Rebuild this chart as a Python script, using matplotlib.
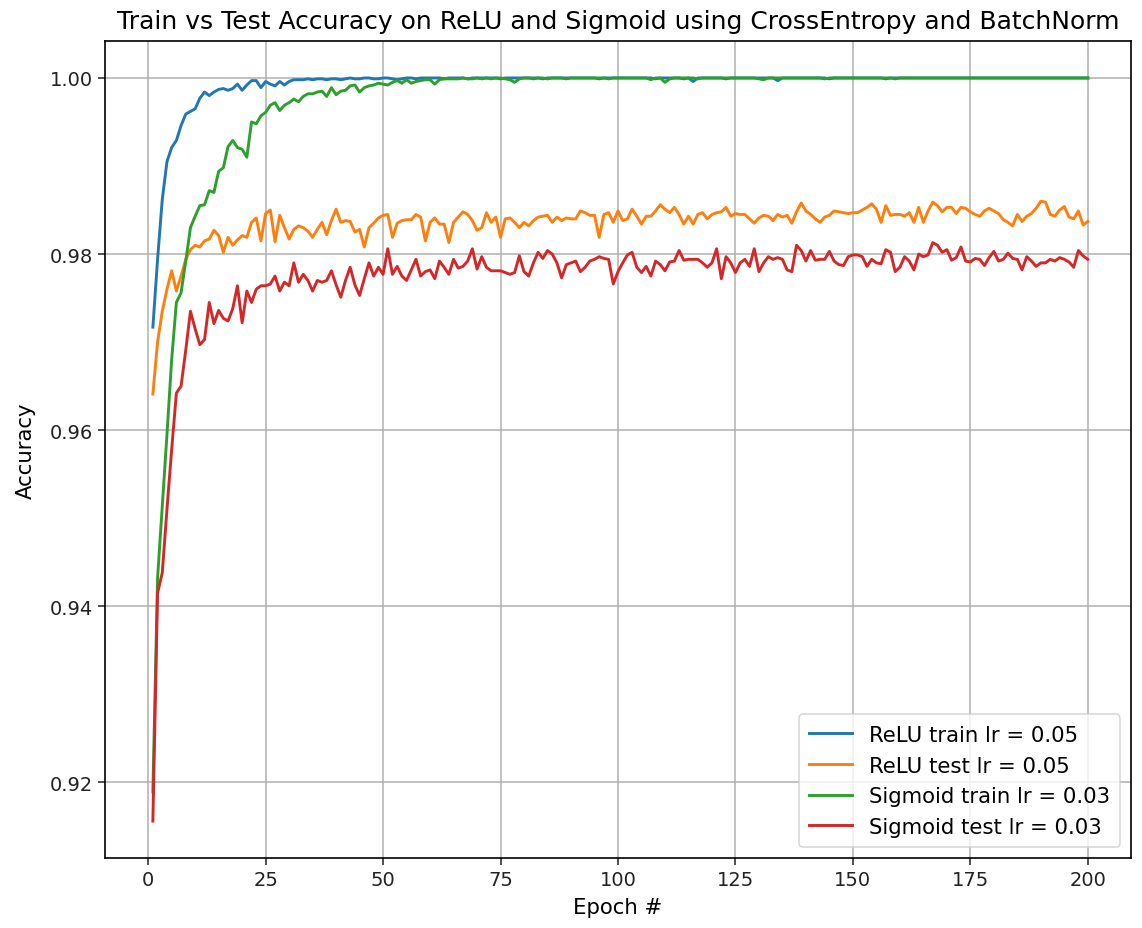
import matplotlib
matplotlib.use("Agg")
import matplotlib.pyplot as plt

# epochs 1..200
epochs = list(range(1, 201))

relu_train = [
    0.9717, 0.9794, 0.9862, 0.9905, 0.9921, 0.9929, 0.9946, 0.9959, 0.9962, 0.9965,
    0.9977, 0.9984, 0.9980, 0.9984, 0.9987, 0.9988, 0.9986, 0.9988, 0.9993, 0.9986,
    0.9992, 0.9997, 0.9997, 0.9989, 0.9996, 0.9993, 0.9991, 0.9996, 0.9992, 0.9996,
    0.9998, 0.9998, 0.9998, 0.9999, 0.9998, 0.9999, 0.9999, 0.9998, 0.9999, 0.9999,
    0.9998, 0.9999, 1.0000, 0.9999, 0.9999, 1.0000, 1.0000, 0.9999, 0.9999, 1.0000,
    1.0000, 0.9999, 0.9998, 0.9999, 1.0000, 1.0000, 0.9999, 1.0000, 1.0000, 1.0000,
    1.0000, 1.0000, 0.9999, 1.0000, 1.0000, 1.0000, 1.0000, 0.9999, 1.0000, 1.0000,
    1.0000, 1.0000, 1.0000, 1.0000, 0.9999, 1.0000, 1.0000, 1.0000, 1.0000, 1.0000,
    1.0000, 1.0000, 1.0000, 0.9999, 1.0000, 1.0000, 1.0000, 1.0000, 1.0000, 1.0000,
    1.0000, 1.0000, 1.0000, 1.0000, 1.0000, 0.9999, 1.0000, 1.0000, 1.0000, 1.0000,
    1.0000, 1.0000, 1.0000, 1.0000, 1.0000, 1.0000, 1.0000, 0.9999, 1.0000, 1.0000,
    1.0000, 1.0000, 1.0000, 0.9999, 1.0000, 0.9996, 1.0000, 1.0000, 1.0000, 1.0000,
    1.0000, 1.0000, 0.9999, 1.0000, 1.0000, 1.0000, 1.0000, 1.0000, 1.0000, 1.0000,
    1.0000, 1.0000, 1.0000, 0.9997, 1.0000, 1.0000, 1.0000, 1.0000, 1.0000, 1.0000,
    1.0000, 1.0000, 1.0000, 1.0000, 0.9999, 1.0000, 1.0000, 1.0000, 1.0000, 1.0000,
    1.0000, 1.0000, 1.0000, 1.0000, 1.0000, 1.0000, 0.9999, 1.0000, 1.0000, 1.0000,
    1.0000, 1.0000, 1.0000, 1.0000, 1.0000, 1.0000, 1.0000, 1.0000, 1.0000, 1.0000,
    1.0000, 1.0000, 1.0000, 1.0000, 1.0000, 1.0000, 1.0000, 1.0000, 1.0000, 1.0000,
    1.0000, 1.0000, 1.0000, 1.0000, 1.0000, 1.0000, 1.0000, 1.0000, 1.0000, 1.0000,
    1.0000, 1.0000, 1.0000, 1.0000, 1.0000, 1.0000, 1.0000, 1.0000, 1.0000, 1.0000,
]

relu_test = [
    0.9641, 0.9700, 0.9735, 0.9760, 0.9781, 0.9758, 0.9775, 0.9794, 0.9805, 0.9810,
    0.9808, 0.9815, 0.9817, 0.9827, 0.9821, 0.9802, 0.9819, 0.9810, 0.9816, 0.9821,
    0.9819, 0.9836, 0.9841, 0.9815, 0.9846, 0.9850, 0.9814, 0.9844, 0.9830, 0.9817,
    0.9828, 0.9832, 0.9830, 0.9826, 0.9819, 0.9828, 0.9836, 0.9822, 0.9838, 0.9851,
    0.9836, 0.9838, 0.9837, 0.9825, 0.9828, 0.9808, 0.9830, 0.9835, 0.9841, 0.9844,
    0.9845, 0.9819, 0.9835, 0.9838, 0.9839, 0.9839, 0.9845, 0.9842, 0.9815, 0.9836,
    0.9841, 0.9834, 0.9834, 0.9813, 0.9836, 0.9842, 0.9848, 0.9845, 0.9838, 0.9827,
    0.9830, 0.9847, 0.9836, 0.9842, 0.9819, 0.9840, 0.9841, 0.9836, 0.9830, 0.9836,
    0.9832, 0.9838, 0.9842, 0.9843, 0.9844, 0.9836, 0.9842, 0.9838, 0.9841, 0.9840,
    0.9840, 0.9849, 0.9847, 0.9844, 0.9844, 0.9819, 0.9845, 0.9847, 0.9836, 0.9849,
    0.9838, 0.9840, 0.9851, 0.9843, 0.9834, 0.9843, 0.9843, 0.9849, 0.9856, 0.9851,
    0.9847, 0.9853, 0.9845, 0.9834, 0.9843, 0.9834, 0.9845, 0.9847, 0.9840, 0.9845,
    0.9847, 0.9848, 0.9853, 0.9843, 0.9846, 0.9845, 0.9845, 0.9840, 0.9835, 0.9841,
    0.9844, 0.9843, 0.9838, 0.9845, 0.9842, 0.9844, 0.9835, 0.9848, 0.9858, 0.9849,
    0.9845, 0.9840, 0.9836, 0.9842, 0.9844, 0.9849, 0.9848, 0.9847, 0.9846, 0.9847,
    0.9847, 0.9850, 0.9853, 0.9857, 0.9851, 0.9836, 0.9855, 0.9844, 0.9845, 0.9845,
    0.9843, 0.9847, 0.9836, 0.9853, 0.9836, 0.9849, 0.9859, 0.9855, 0.9848, 0.9853,
    0.9853, 0.9846, 0.9853, 0.9852, 0.9848, 0.9845, 0.9843, 0.9849, 0.9852, 0.9849,
    0.9846, 0.9839, 0.9836, 0.9832, 0.9845, 0.9837, 0.9843, 0.9846, 0.9852, 0.9860,
    0.9859, 0.9845, 0.9843, 0.9850, 0.9854, 0.9842, 0.9840, 0.9849, 0.9833, 0.9837,
]

sigmoid_train = [
    0.9189, 0.9432, 0.9513, 0.9595, 0.9680, 0.9745, 0.9756, 0.9792, 0.9830, 0.9843,
    0.9855, 0.9856, 0.9872, 0.9870, 0.9894, 0.9898, 0.9922, 0.9929, 0.9921, 0.9919,
    0.9910, 0.9950, 0.9948, 0.9957, 0.9961, 0.9969, 0.9972, 0.9963, 0.9969, 0.9972,
    0.9976, 0.9973, 0.9979, 0.9982, 0.9982, 0.9984, 0.9985, 0.9979, 0.9989, 0.9981,
    0.9985, 0.9986, 0.9991, 0.9992, 0.9984, 0.9989, 0.9991, 0.9992, 0.9994, 0.9993,
    0.9992, 0.9995, 0.9997, 0.9994, 0.9998, 0.9994, 0.9996, 0.9997, 0.9998, 0.9998,
    0.9993, 0.9998, 0.9999, 0.9999, 0.9999, 0.9999, 1.0000, 0.9999, 0.9999, 1.0000,
    0.9999, 1.0000, 0.9999, 1.0000, 1.0000, 0.9999, 0.9998, 0.9995, 0.9999, 1.0000,
    1.0000, 0.9999, 1.0000, 1.0000, 0.9999, 1.0000, 1.0000, 1.0000, 0.9999, 1.0000,
    1.0000, 1.0000, 1.0000, 1.0000, 1.0000, 1.0000, 1.0000, 0.9999, 1.0000, 1.0000,
    1.0000, 1.0000, 1.0000, 1.0000, 1.0000, 1.0000, 0.9998, 1.0000, 1.0000, 0.9995,
    0.9999, 1.0000, 1.0000, 1.0000, 1.0000, 1.0000, 0.9999, 1.0000, 1.0000, 1.0000,
    1.0000, 1.0000, 1.0000, 1.0000, 1.0000, 1.0000, 1.0000, 1.0000, 1.0000, 0.9999,
    0.9998, 1.0000, 1.0000, 1.0000, 1.0000, 1.0000, 1.0000, 1.0000, 1.0000, 1.0000,
    1.0000, 1.0000, 1.0000, 0.9999, 1.0000, 1.0000, 1.0000, 1.0000, 1.0000, 1.0000,
    1.0000, 1.0000, 1.0000, 1.0000, 1.0000, 1.0000, 1.0000, 1.0000, 0.9999, 1.0000,
    1.0000, 1.0000, 1.0000, 1.0000, 1.0000, 1.0000, 1.0000, 1.0000, 1.0000, 1.0000,
    1.0000, 1.0000, 1.0000, 1.0000, 1.0000, 1.0000, 1.0000, 1.0000, 1.0000, 1.0000,
    1.0000, 1.0000, 1.0000, 1.0000, 1.0000, 1.0000, 1.0000, 1.0000, 1.0000, 1.0000,
    1.0000, 1.0000, 1.0000, 1.0000, 1.0000, 1.0000, 1.0000, 1.0000, 1.0000, 1.0000,
]

sigmoid_test = [
    0.9156, 0.9415, 0.9438, 0.9510, 0.9578, 0.9642, 0.9650, 0.9691, 0.9735, 0.9715,
    0.9697, 0.9703, 0.9745, 0.9721, 0.9736, 0.9727, 0.9724, 0.9738, 0.9764, 0.9722,
    0.9758, 0.9745, 0.9760, 0.9764, 0.9764, 0.9766, 0.9775, 0.9758, 0.9768, 0.9764,
    0.9790, 0.9768, 0.9777, 0.9770, 0.9758, 0.9770, 0.9768, 0.9770, 0.9781, 0.9765,
    0.9751, 0.9770, 0.9785, 0.9765, 0.9753, 0.9772, 0.9790, 0.9775, 0.9785, 0.9777,
    0.9806, 0.9777, 0.9786, 0.9775, 0.9770, 0.9782, 0.9794, 0.9775, 0.9780, 0.9782,
    0.9772, 0.9792, 0.9785, 0.9777, 0.9794, 0.9784, 0.9786, 0.9792, 0.9806, 0.9783,
    0.9797, 0.9785, 0.9781, 0.9781, 0.9781, 0.9779, 0.9777, 0.9779, 0.9798, 0.9780,
    0.9775, 0.9790, 0.9802, 0.9795, 0.9804, 0.9800, 0.9790, 0.9773, 0.9788, 0.9790,
    0.9792, 0.9780, 0.9785, 0.9792, 0.9794, 0.9797, 0.9795, 0.9794, 0.9766, 0.9780,
    0.9790, 0.9799, 0.9802, 0.9785, 0.9779, 0.9786, 0.9775, 0.9792, 0.9788, 0.9781,
    0.9791, 0.9792, 0.9804, 0.9793, 0.9794, 0.9794, 0.9794, 0.9790, 0.9785, 0.9790,
    0.9806, 0.9772, 0.9797, 0.9790, 0.9779, 0.9790, 0.9794, 0.9786, 0.9806, 0.9780,
    0.9790, 0.9797, 0.9794, 0.9796, 0.9794, 0.9782, 0.9780, 0.9810, 0.9804, 0.9792,
    0.9804, 0.9793, 0.9794, 0.9794, 0.9803, 0.9792, 0.9788, 0.9787, 0.9797, 0.9799,
    0.9799, 0.9797, 0.9786, 0.9794, 0.9790, 0.9789, 0.9805, 0.9802, 0.9780, 0.9785,
    0.9797, 0.9792, 0.9782, 0.9800, 0.9797, 0.9799, 0.9813, 0.9810, 0.9802, 0.9805,
    0.9793, 0.9796, 0.9808, 0.9792, 0.9791, 0.9795, 0.9794, 0.9787, 0.9796, 0.9803,
    0.9792, 0.9794, 0.9801, 0.9795, 0.9794, 0.9782, 0.9797, 0.9792, 0.9786, 0.9790,
    0.9790, 0.9794, 0.9792, 0.9796, 0.9794, 0.9791, 0.9785, 0.9804, 0.9798, 0.9794,
]

labels = ["ReLU train lr = 0.05", "ReLU test lr = 0.05",
          "Sigmoid train lr = 0.03", "Sigmoid test lr = 0.03"]
colors = ["#1f77b4", "#ff7f0e", "#2ca02c", "#d62728"]

plt.rcParams['font.family'] = ['DejaVu Sans']

fig = plt.figure(figsize=(11.42, 9.29), dpi=100)
ax = fig.add_axes([0.0919, 0.0753, 0.8985, 0.8795])

for series, label, color in zip([relu_train, relu_test, sigmoid_train, sigmoid_test], labels, colors):
    ax.plot(epochs, series, color=color, lw=2.1, label=label)

ax.set_xticks([0, 25, 50, 75, 100, 125, 150, 175, 200])
ax.set_yticks([0.92, 0.94, 0.96, 0.98, 1.00])
ax.set_yticklabels(["0.92", "0.94", "0.96", "0.98", "1.00"])
ax.set_xlim(-9.2, 209.2)
ax.set_ylim(0.9114, 1.0042)

ax.grid(True, color="#b0b0b0", lw=1.1)
ax.set_axisbelow(True)
for side in ax.spines.values():
    side.set_linewidth(1.2)
ax.tick_params(length=4.8, width=1.1, labelsize=14, colors="#222222")

ax.set_title("Train vs Test Accuracy on ReLU and Sigmoid using CrossEntropy and BatchNorm",
             fontsize=18, pad=9)
ax.set_xlabel("Epoch #", fontsize=15.3, labelpad=6)
ax.set_ylabel("Accuracy", fontsize=15.3, labelpad=10)

leg = ax.legend(loc="lower right", fontsize=15.3, handlelength=2.0, borderpad=0.5)
leg.get_frame().set_linewidth(1.1)

plt.savefig("out.png", dpi=100)
